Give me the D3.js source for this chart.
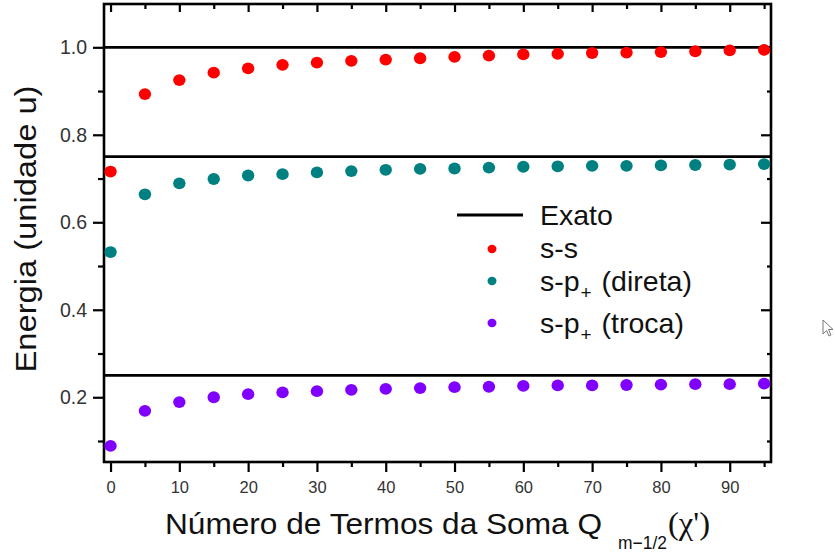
<!DOCTYPE html>
<html>
<head>
<meta charset="utf-8">
<script src="https://cdn.jsdelivr.net/npm/d3@7"></script>
<style>
  body { margin: 0; background: #fff; }
  svg { display: block; }
  text { font-family: "Liberation Sans", Arial, sans-serif; }
</style>
</head>
<body>
<svg id="chart" width="835" height="554"></svg>
<script>
// Number of terms kept in the sum Q_{m-1/2}(chi')
const termCounts = [0, 5, 10, 15, 20, 25, 30, 35, 40, 45, 50, 55, 60, 65, 70, 75, 80, 85, 90, 95];

// Energies (unit u) for each interaction
const ssEnergy = [0.716, 0.893, 0.925, 0.942, 0.952, 0.960, 0.965, 0.969, 0.972, 0.975,
                  0.978, 0.981, 0.984, 0.985, 0.987, 0.988, 0.989, 0.991, 0.993, 0.994];
const spDirectEnergy = [0.532, 0.664, 0.689, 0.699, 0.707, 0.710, 0.714, 0.717, 0.720, 0.722,
                        0.723, 0.725, 0.727, 0.728, 0.729, 0.729, 0.730, 0.731, 0.732, 0.733];
const spExchangeEnergy = [0.089, 0.169, 0.189, 0.200, 0.207, 0.211, 0.214, 0.217, 0.219, 0.221,
                          0.223, 0.224, 0.226, 0.227, 0.227, 0.228, 0.229, 0.230, 0.230, 0.231];

// Exact values
const exactEnergy = [1.0, 0.75, 0.25];

// Axis ticks
const xMajorTicks = [0, 10, 20, 30, 40, 50, 60, 70, 80, 90];
const xMinorTicks = [5, 15, 25, 35, 45, 55, 65, 75, 85, 95];
const yMajorTicks = [0.2, 0.4, 0.6, 0.8, 1.0];
const yMinorTicks = [0.1, 0.3, 0.5, 0.7, 0.9];

const seriesNames = ["s-s", "s-p+ (direta)", "s-p+ (troca)"];
const seriesColors = ["#ff0000", "#008080", "#8000ff"];

const series = [
  { name: seriesNames[0], color: seriesColors[0], values: ssEnergy },
  { name: seriesNames[1], color: seriesColors[1], values: spDirectEnergy },
  { name: seriesNames[2], color: seriesColors[2], values: spExchangeEnergy }
];

const svg = d3.select("#chart");
const plotLeft = 104, plotRight = 771, plotTop = 4, plotBottom = 462;

const x = d3.scaleLinear().domain([-0.95, 96]).range([plotLeft, plotRight]);
const y = d3.scaleLinear().domain([0.052, 1.099]).range([plotBottom, plotTop]);

const axisColor = "#000";
const axisWidth = 2.6;
const sans = "'Liberation Sans', Arial, sans-serif";

// Exact reference lines
svg.append("g").selectAll("line")
  .data(exactEnergy)
  .join("line")
  .attr("x1", plotLeft).attr("x2", plotRight)
  .attr("y1", d => y(d)).attr("y2", d => y(d))
  .attr("stroke", "#000").attr("stroke-width", 2.8);

// Axes with outward (left/bottom) and inward (top/right) ticks
function styleAxis(g) {
  g.select(".domain").remove();
  g.selectAll(".tick line").attr("stroke", axisColor).attr("stroke-width", 2.2);
}

// Bottom axis: major ticks with labels
svg.append("g")
  .attr("transform", `translate(0,${plotBottom})`)
  .call(d3.axisBottom(x).tickValues(xMajorTicks).tickSize(10).tickPadding(9).tickFormat(d3.format("d")))
  .call(styleAxis)
  .call(g => g.selectAll(".tick text")
    .attr("font-size", 16.5).attr("fill", "#333").style("font-family", sans));
svg.append("g")
  .attr("transform", `translate(0,${plotBottom})`)
  .call(d3.axisBottom(x).tickValues(xMinorTicks).tickSize(5).tickFormat(""))
  .call(styleAxis);

// Top axis: inward ticks
svg.append("g")
  .attr("transform", `translate(0,${plotTop})`)
  .call(d3.axisTop(x).tickValues(xMajorTicks).tickSize(-8).tickFormat(""))
  .call(styleAxis);
svg.append("g")
  .attr("transform", `translate(0,${plotTop})`)
  .call(d3.axisTop(x).tickValues(xMinorTicks).tickSize(-5).tickFormat(""))
  .call(styleAxis);

// Left axis: major ticks with labels
svg.append("g")
  .attr("transform", `translate(${plotLeft},0)`)
  .call(d3.axisLeft(y).tickValues(yMajorTicks).tickSize(11).tickPadding(6).tickFormat(d3.format(".1f")))
  .call(styleAxis)
  .call(g => g.selectAll(".tick text")
    .attr("font-size", 19.5).attr("fill", "#333").style("font-family", sans));
svg.append("g")
  .attr("transform", `translate(${plotLeft},0)`)
  .call(d3.axisLeft(y).tickValues(yMinorTicks).tickSize(6).tickFormat(""))
  .call(styleAxis);

// Right axis: inward ticks
svg.append("g")
  .attr("transform", `translate(${plotRight},0)`)
  .call(d3.axisRight(y).tickValues(yMajorTicks).tickSize(-10).tickFormat(""))
  .call(styleAxis);
svg.append("g")
  .attr("transform", `translate(${plotRight},0)`)
  .call(d3.axisRight(y).tickValues(yMinorTicks).tickSize(-4).tickFormat(""))
  .call(styleAxis);

// Frame
svg.append("rect")
  .attr("x", plotLeft).attr("y", plotTop)
  .attr("width", plotRight - plotLeft).attr("height", plotBottom - plotTop)
  .attr("fill", "none").attr("stroke", axisColor).attr("stroke-width", axisWidth);

// Data points
const points = svg.append("g");
series.forEach(s => {
  points.append("g")
    .selectAll("ellipse")
    .data(termCounts.map((t, i) => ({ t, v: s.values[i] })))
    .join("ellipse")
    .attr("cx", d => x(d.t))
    .attr("cy", d => y(d.v))
    .attr("rx", 6.2).attr("ry", 5.9)
    .attr("fill", s.color);
});

// Y axis title
svg.append("text")
  .attr("transform", "translate(36,229) rotate(-90)")
  .attr("text-anchor", "middle")
  .attr("font-size", 30)
  .attr("fill", "#111")
  .attr("textLength", 287)
  .attr("lengthAdjust", "spacingAndGlyphs")
  .text("Energia (unidade u)");

// X axis title: main text, subscript and argument
svg.append("text")
  .attr("x", 165).attr("y", 534)
  .attr("font-size", 30).attr("fill", "#111")
  .attr("textLength", 437).attr("lengthAdjust", "spacingAndGlyphs")
  .text("Número de Termos da Soma Q");
svg.append("text")
  .attr("x", 618).attr("y", 549)
  .attr("font-size", 18).attr("fill", "#111")
  .attr("textLength", 49).attr("lengthAdjust", "spacingAndGlyphs")
  .text("m\u22121/2");
svg.append("text")
  .attr("x", 668).attr("y", 534)
  .attr("font-size", 31).attr("fill", "#111")
  .style("font-family", "'Liberation Serif', 'Times New Roman', serif")
  .attr("textLength", 42).attr("lengthAdjust", "spacingAndGlyphs")
  .text("(\u03C7')");

// Legend
const legend = svg.append("g");
legend.append("line")
  .attr("x1", 457).attr("x2", 523).attr("y1", 215).attr("y2", 215)
  .attr("stroke", "#000").attr("stroke-width", 2.8);
legend.append("text")
  .attr("x", 540).attr("y", 225)
  .attr("font-size", 28.5).attr("fill", "#111")
  .text("Exato");

const legendRows = [
  { y: 249, ty: 258 },
  { y: 281, ty: 291 },
  { y: 323, ty: 333 }
];
series.forEach((s, i) => {
  const row = legendRows[i];
  legend.append("ellipse")
    .attr("cx", 492).attr("cy", row.y)
    .attr("rx", 4.5).attr("ry", 4.2)
    .attr("fill", s.color);
  const t = legend.append("text")
    .attr("x", 540).attr("y", row.ty)
    .attr("font-size", 28.5).attr("fill", "#111");
  const m = s.name.match(/^(s-p)\+(.*)$/);
  if (m) {
    t.append("tspan").text(m[1]);
    t.append("tspan").attr("font-size", 19).attr("dx", 1).attr("dy", 8).text("+");
    t.append("tspan").attr("dx", 2).attr("dy", -8).text(m[2]);
  } else {
    t.text(s.name);
  }
});

// Pointer glyph at the right margin
svg.append("path")
  .attr("d", "M823,320 L823,334 L826.5,330.5 L829,336 L831,335 L828.5,329.5 L833,329.5 Z")
  .attr("fill", "#fff").attr("stroke", "#777").attr("stroke-width", 1);
</script>
</body>
</html>
